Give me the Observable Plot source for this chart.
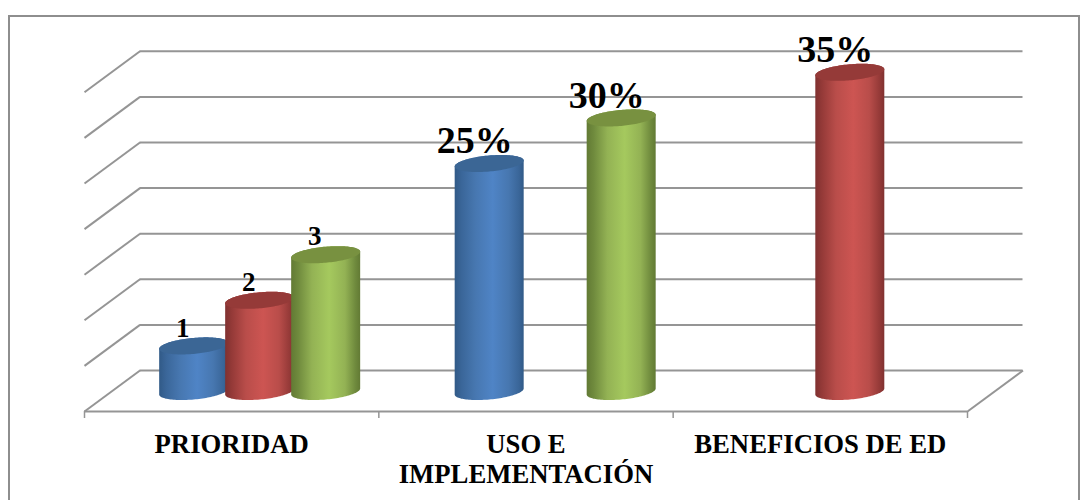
<!DOCTYPE html>
<html><head><meta charset="utf-8">
<script src="https://cdn.jsdelivr.net/npm/d3@7"></script>
<script src="https://cdn.jsdelivr.net/npm/@observablehq/plot@0.6"></script>
<style>
html,body{margin:0;padding:0;background:#fff;overflow:hidden}
#frame{position:absolute;left:8px;top:15px;width:1072px;height:490px;border:2px solid #8e8e8e;border-bottom:none;box-sizing:border-box}
#chart{position:absolute;left:0;top:0}
</style></head><body>
<div id="frame"></div><div id="chart"></div>
<script>
const categories = ["PRIORIDAD", "USO E\nIMPLEMENTACIÓN", "BENEFICIOS DE ED"];
const blueValues  = [5, 25, null];
const redValues   = [10, null, 35];
const greenValues = [15, 30, null];
const blueLabels  = ["1", "25%", null];
const redLabels   = ["2", null, "35%"];
const greenLabels = ["3", "30%", null];
const gridValues = [0, 5, 10, 15, 20, 25, 30, 35];
const categoryEdges = [0, 1, 2, 3];

const palette = {
  blue:  {edge:"#3a6699", mid:"#4777b0", lit:"#4f84c6", top:"#3b6695", rim:"#315a87"},
  red:   {edge:"#953a38", mid:"#b94d4a", lit:"#cd5552", top:"#953a38", rim:"#803130"},
  green: {edge:"#6f8a3d", mid:"#93b254", lit:"#a5c95e", top:"#789140", rim:"#627a34"}
};
const seriesList = [
  {key:"blue",  slot:-1, values:blueValues,  labels:blueLabels},
  {key:"red",   slot:0,  values:redValues,   labels:redLabels},
  {key:"green", slot:1,  values:greenValues, labels:greenLabels}
];
const clusterCenters = [0.5, 1.504, 2.505];

// scale set-up
const pxX = (967 - 84) / 3, pxY = 9.12;
const depthX = 55.5, depthY = 41;
const midX = 28.5, midY = 19.5;
const slotW = 66 / pxX, rx = 34.5 / pxX, ry = 8 / pxY, tilt = 3 / pxY;

const bars = seriesList.flatMap(s => s.values.map((v, i) => v == null ? null : ({
  key: s.key, value: v, label: s.labels[i], center: clusterCenters[i] + s.slot * slotW
})).filter(Boolean));

const samples = d3.range(0, 61).map(k => Math.PI * k / 60);
function arcRows(b) {
  return samples.map(t => {
    const c = Math.cos(t), s = Math.sin(t);
    return {x: b.center + rx * c, c, s};
  });
}
const bodyMark = b => Plot.areaY(arcRows(b), {
  x: "x",
  y1: r => r.c * tilt - r.s * ry,
  y2: r => b.value + r.c * tilt + r.s * ry,
  fill: `url(#g-${b.key})`, dx: midX, dy: -midY, curve: "linear"
});
const capMark = b => Plot.areaY(arcRows(b), {
  x: "x",
  y1: r => b.value + r.c * tilt - r.s * ry,
  y2: r => b.value + r.c * tilt + r.s * ry,
  fill: palette[b.key].top, dx: midX, dy: -midY, curve: "linear"
});

function defsMark() {
  const defs = d3.create("svg:defs");
  for (const key of Object.keys(palette)) {
    const p = palette[key];
    const g = defs.append("linearGradient").attr("id", "g-" + key)
      .attr("x1", 0).attr("x2", 1).attr("y1", 0).attr("y2", 0);
    [[0, p.rim], [0.1, p.edge], [0.3, p.mid], [0.55, p.lit], [0.78, p.mid], [0.93, p.edge], [1, p.rim]]
      .forEach(([o, c]) => g.append("stop").attr("offset", o).attr("stop-color", c));
  }
  return defs.node();
}

const lineColor = "#959595";
const serif = "'Liberation Serif','Times New Roman',serif";

const chart = Plot.plot({
  width: 1087, height: 500,
  marginTop: 0, marginBottom: 0, marginLeft: 0, marginRight: 0,
  style: {background: "transparent", overflow: "visible"},
  x: {domain: [0, 3], range: [84, 967], axis: null},
  y: {type: "linear", domain: [0, 40], range: [411, 411 - 40 * pxY], axis: null},
  marks: [
    defsMark,
    // back wall
    Plot.ruleY(gridValues, {x1: 0, x2: 3, dx: depthX, dy: -depthY, stroke: lineColor, strokeWidth: 2}),
    // left wall diagonals
    Plot.link(gridValues, {
      x1: () => 0, x2: () => depthX / pxX,
      y1: d => d, y2: d => d + depthY / pxY,
      stroke: lineColor, strokeWidth: 2
    }),
    // floor
    Plot.link([0], {x1: () => 3, x2: () => 3 + depthX / pxX, y1: () => 0, y2: () => depthY / pxY, stroke: lineColor, strokeWidth: 2}),
    Plot.ruleY([0], {x1: 0, x2: 3, stroke: lineColor, strokeWidth: 2}),
    Plot.ruleX(categoryEdges, {x: d => d, y1: () => 0, y2: () => -7 / pxY, stroke: lineColor, strokeWidth: 1.5}),
    // cylinders
    ...bars.flatMap(b => [bodyMark(b), capMark(b)]),
    // value labels
    Plot.text(bars.filter(b => b.value <= 15), {
      x: "center", y: "value", text: "label", dx: midX - 11.5, dy: -midY - 18.5,
      fontFamily: serif, fontWeight: "bold", fontSize: 27, fill: "#000"
    }),
    Plot.text(bars.filter(b => b.value > 15), {
      x: "center", y: "value", text: "label", dx: midX - 15, dy: -midY - 23,
      fontFamily: serif, fontWeight: "bold", fontSize: 38, fill: "#000"
    }),
    // category labels
    Plot.text(categories, {
      x: (d, i) => i + 0.5, y: () => 0, text: d => d, dy: 20, lineAnchor: "top", lineHeight: 1.12,
      fontFamily: serif, fontWeight: "bold", fontSize: 26.7, fill: "#000"
    })
  ]
});
document.getElementById("chart").append(chart);
</script>
</body></html>
